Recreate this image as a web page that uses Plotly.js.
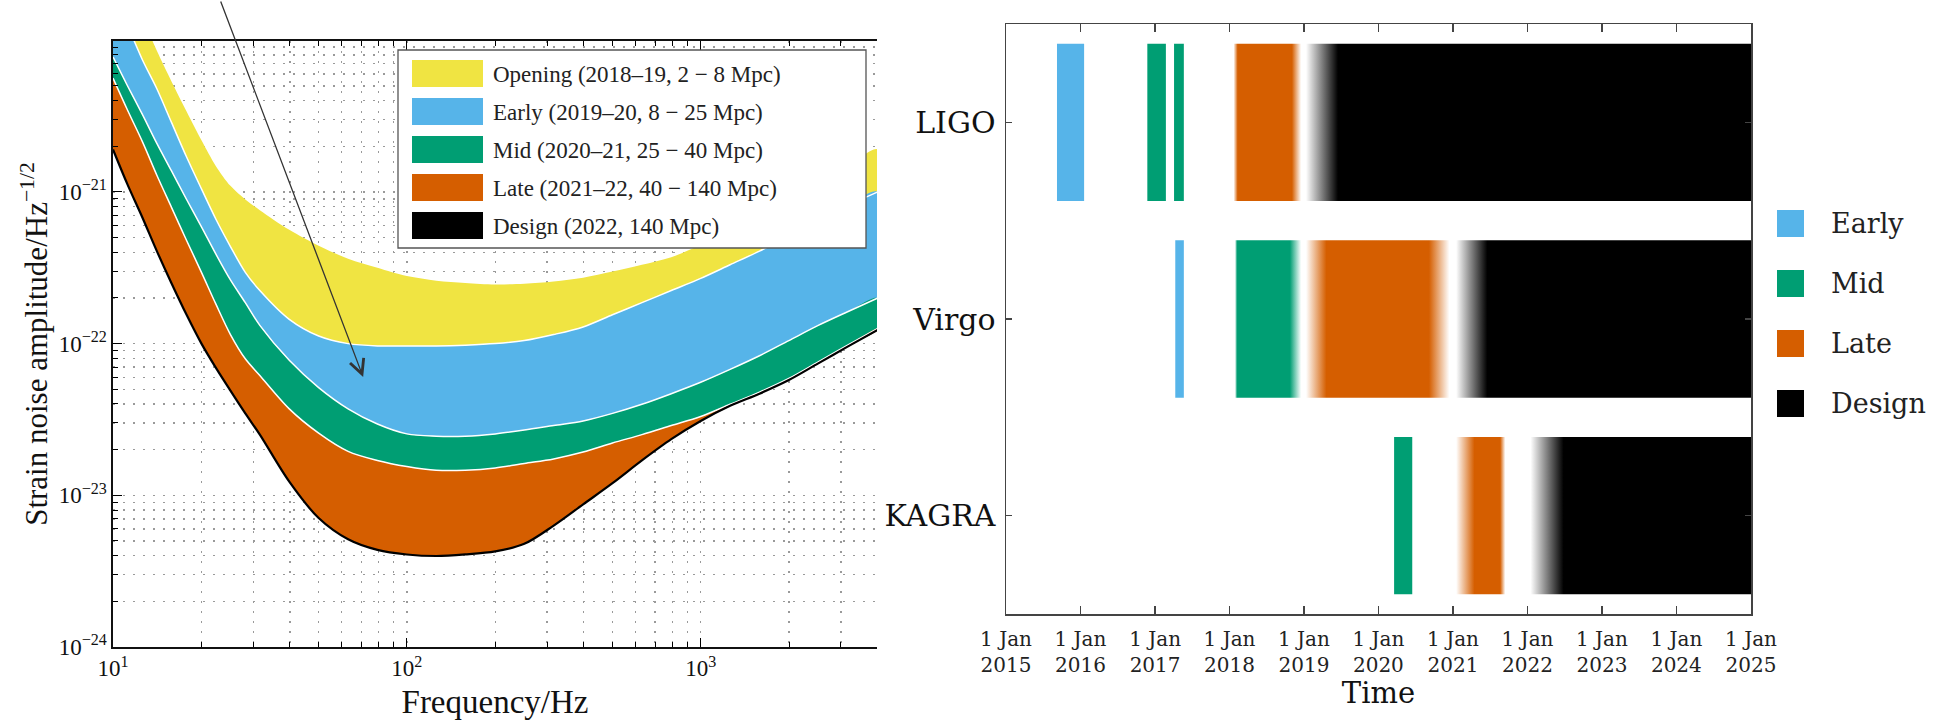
<!DOCTYPE html>
<html>
<head>
<meta charset="utf-8">
<script src="https://cdn.plot.ly/plotly-3.0.1.min.js"></script>
<style>html,body{margin:0;padding:0;background:#fff;}</style>
</head>
<body>
<div id="chart" style="width:1941px;height:720px;"></div>
<script>
// ---------- Left panel data: strain noise amplitude curves (log10 of ASD) ----------
const freqHz = [10, 11.2, 12.6, 14.1, 15.8, 17.8, 20, 22.4, 25.1, 28.2, 31.6, 39.8, 50.1, 63.1, 79.4, 100,
  126, 158, 200, 251, 316, 398, 501, 631, 794, 1000, 1259, 1585, 1995, 2512, 3162, 4000];
// 2 Mpc curve (top of Opening band)
const opening2MpcLog = [-19.40, -19.62, -19.85, -20.07, -20.27, -20.47, -20.66, -20.83, -20.96, -21.05, -21.12,
  -21.25, -21.355, -21.44, -21.50, -21.555, -21.585, -21.60, -21.61, -21.605, -21.59, -21.565, -21.525, -21.48,
  -21.43, -21.35, -21.26, -21.15, -21.04, -20.93, -20.83, -20.72];
// 8 Mpc curve (Opening / Early boundary)
const early8MpcLog = [-19.68, -19.90, -20.13, -20.32, -20.54, -20.77, -20.98, -21.18, -21.36, -21.53, -21.65,
  -21.84, -21.95, -22.00, -22.015, -22.015, -22.015, -22.01, -22.00, -21.98, -21.94, -21.89, -21.81, -21.73,
  -21.65, -21.57, -21.48, -21.39, -21.29, -21.19, -21.09, -21.00];
// 25 Mpc curve (Early / Mid boundary)
const mid25MpcLog = [-20.11, -20.30, -20.49, -20.68, -20.86, -21.05, -21.23, -21.41, -21.58, -21.73, -21.88,
  -22.11, -22.29, -22.43, -22.53, -22.595, -22.61, -22.61, -22.595, -22.57, -22.54, -22.51, -22.46, -22.40,
  -22.33, -22.255, -22.17, -22.08, -21.98, -21.88, -21.79, -21.70];
// 40 Mpc curve (Mid / Late boundary)
const late40MpcLog = [-20.25, -20.46, -20.67, -20.89, -21.10, -21.32, -21.53, -21.74, -21.94, -22.10, -22.21,
  -22.43, -22.59, -22.71, -22.77, -22.81, -22.835, -22.835, -22.82, -22.79, -22.76, -22.715, -22.655, -22.60,
  -22.54, -22.48, -22.40, -22.32, -22.23, -22.12, -22.01, -21.90];
// 140 Mpc curve (Design)
const design140MpcLog = [-20.72, -20.95, -21.17, -21.39, -21.60, -21.81, -22.00, -22.16, -22.31, -22.46, -22.60,
  -22.91, -23.15, -23.29, -23.36, -23.39, -23.40, -23.39, -23.37, -23.32, -23.20, -23.06, -22.92, -22.77,
  -22.63, -22.51, -22.41, -22.33, -22.24, -22.13, -22.02, -21.91];

const bandNames = ['Opening (2018–19, 2 − 8 Mpc)', 'Early (2019–20, 8 − 25 Mpc)', 'Mid (2020–21, 25 − 40 Mpc)',
  'Late (2021–22, 40 − 140 Mpc)', 'Design (2022, 140 Mpc)'];
const freqTickVals = [10, 100, 1000];
const freqTickText = ['10<sup>1</sup>', '10<sup>2</sup>', '10<sup>3</sup>'];
const strainTickVals = [1e-24, 1e-23, 1e-22, 1e-21];
const strainTickText = ['10<sup>−24</sup>', '10<sup>−23</sup>', '10<sup>−22</sup>', '10<sup>−21</sup>'];

// ---------- Right panel data: observing timeline ----------
const detectors = ['LIGO', 'Virgo', 'KAGRA'];
const phases = ['Early', 'Mid', 'Late', 'Design'];
const segDetector = ['LIGO', 'LIGO', 'LIGO', 'LIGO', 'LIGO', 'Virgo', 'Virgo', 'Virgo', 'Virgo', 'KAGRA', 'KAGRA', 'KAGRA'];
const segPhase    = ['Early', 'Mid', 'Mid', 'Late', 'Design', 'Early', 'Mid', 'Late', 'Design', 'Mid', 'Late', 'Design'];
const segStart = ['2015-09-08', '2016-11-24', '2017-04-04', '2018-01-21', '2019-01-11',
  '2017-04-10', '2018-01-28', '2019-01-11', '2021-01-16',
  '2020-03-18', '2021-01-16', '2022-01-16'];
const segEnd = ['2016-01-19', '2017-02-23', '2017-05-22', '2018-12-18', '2025-01-01',
  '2017-05-22', '2018-12-18', '2020-12-14', '2025-01-01',
  '2020-06-15', '2021-09-14', '2025-01-01'];
const segFadeInDays  = [0, 0, 0, 20, 157, 0, 10, 100, 153, 0, 90, 162];
const segFadeOutDays = [0, 0, 0, 45, 0, 0, 55, 100, 0, 0, 25, 0];
const yearTickVals = ['2015-01-01', '2016-01-01', '2017-01-01', '2018-01-01', '2019-01-01', '2020-01-01',
  '2021-01-01', '2022-01-01', '2023-01-01', '2024-01-01', '2025-01-01'];
const yearTickText = ['1 Jan<br>2015', '1 Jan<br>2016', '1 Jan<br>2017', '1 Jan<br>2018', '1 Jan<br>2019',
  '1 Jan<br>2020', '1 Jan<br>2021', '1 Jan<br>2022', '1 Jan<br>2023', '1 Jan<br>2024', '1 Jan<br>2025'];

// ---------- styling ----------
const COL = {Opening: '#F0E442', Early: '#56B4E9', Mid: '#009E73', Late: '#D55E00', Design: '#000000'};
const bandColors = [COL.Opening, COL.Early, COL.Mid, COL.Late, COL.Design];
const W = 1941, H = 720;
const px = v => v / W;
const py = v => 1 - v / H;
const SERIF_L = 'Liberation Serif, Times New Roman, serif';
const SERIF_R = 'DejaVu Serif, serif';

const toVal = arr => arr.map(v => Math.pow(10, v));
const curves = [opening2MpcLog, early8MpcLog, mid25MpcLog, late40MpcLog, design140MpcLog].map(toVal);

const traces = [];
// Bands between consecutive curves
for (let i = 0; i < 4; i++) {
  const upper = curves[i], lower = curves[i + 1];
  traces.push({
    x: freqHz.concat(freqHz.slice().reverse()),
    y: upper.concat(lower.slice().reverse()),
    xaxis: 'x', yaxis: 'y',
    type: 'scatter', mode: 'lines', fill: 'toself',
    line: {width: 0, shape: 'spline', smoothing: 0.9, color: bandColors[i]},
    fillcolor: bandColors[i], name: bandNames[i], hoverinfo: 'name'
  });
}
// Boundary lines
for (let i = 1; i <= 3; i++) {
  traces.push({x: freqHz, y: curves[i], xaxis: 'x', yaxis: 'y', type: 'scatter', mode: 'lines',
    line: {color: 'white', width: 1.5, shape: 'spline', smoothing: 0.9}, hoverinfo: 'skip'});
}
traces.push({x: freqHz, y: curves[4], xaxis: 'x', yaxis: 'y', type: 'scatter', mode: 'lines',
  line: {color: '#000', width: 2.2, shape: 'spline', smoothing: 0.9}, name: bandNames[4]});

// Timeline segments
const DAY = 86400000;
const halfBar = 0.4;
for (let i = 0; i < segStart.length; i++) {
  const c = detectors.indexOf(segDetector[i]);
  const color = COL[segPhase[i]];
  const span = (new Date(segEnd[i]) - new Date(segStart[i])) / DAY;
  const fi = segFadeInDays[i] / span, fo = segFadeOutDays[i] / span;
  const stops = [[0, fi > 0 ? '#ffffff' : color]];
  if (fi > 0) stops.push([fi, color]);
  if (fo > 0) stops.push([1 - fo, color]);
  stops.push([1, fo > 0 ? '#ffffff' : color]);
  traces.push({
    x: [segStart[i], segEnd[i], segEnd[i], segStart[i], segStart[i]],
    y: [c - halfBar, c - halfBar, c + halfBar, c + halfBar, c - halfBar],
    xaxis: 'x2', yaxis: 'y2', type: 'scatter', mode: 'none', fill: 'toself',
    fillcolor: color,
    fillgradient: {type: 'horizontal', colorscale: stops},
    name: segDetector[i] + ' ' + segPhase[i], hoverinfo: 'name'
  });
}

// ---------- custom legends ----------
const shapes = [];
const annotations = [];
shapes.push({type: 'rect', xref: 'paper', yref: 'paper', x0: px(398), x1: px(866), y0: py(248), y1: py(50),
  fillcolor: 'white', line: {color: '#555', width: 1.3}, layer: 'above'});
bandNames.forEach((name, i) => {
  const cy = 73.5 + 38 * i;
  shapes.push({type: 'rect', xref: 'paper', yref: 'paper', x0: px(412), x1: px(483), y0: py(cy + 13.5), y1: py(cy - 13.5),
    fillcolor: bandColors[i], line: {width: 0}, layer: 'above'});
  annotations.push({xref: 'paper', yref: 'paper', x: px(491), y: py(cy + 1), xanchor: 'left', yanchor: 'middle',
    text: name, showarrow: false, font: {family: SERIF_L, size: 23, color: '#222'}});
});
phases.forEach((name, i) => {
  const cy = 223.5 + 60 * i;
  shapes.push({type: 'rect', xref: 'paper', yref: 'paper', x0: px(1777), x1: px(1804), y0: py(cy + 13.5), y1: py(cy - 13.5),
    fillcolor: COL[name], line: {width: 0}});
  annotations.push({xref: 'paper', yref: 'paper', x: px(1829), y: py(cy), xanchor: 'left', yanchor: 'middle',
    text: name, showarrow: false, font: {family: SERIF_R, size: 27, color: '#222'}});
});
// pointer arrow
annotations.push({xref: 'x', yref: 'y', x: Math.log10(71), y: -22.22, text: '', showarrow: true,
  axref: 'pixel', ayref: 'pixel', ax: -143, ay: -378, arrowhead: 5, arrowsize: 2.2, arrowwidth: 1.3,
  arrowcolor: '#333', standoff: 0});

const gridDash = '2px,8px';
const layout = {
  width: W, height: H,
  margin: {l: 0, r: 0, t: 0, b: 0},
  paper_bgcolor: 'white', plot_bgcolor: 'white',
  showlegend: false,
  font: {family: SERIF_L, color: '#111'},
  xaxis: {
    type: 'log', domain: [px(113), px(877)], range: [1, Math.log10(3981)], anchor: 'y',
    tickmode: 'array', tickvals: freqTickVals, ticktext: freqTickText,
    ticks: 'inside', ticklen: 9, tickwidth: 1, tickcolor: '#000',
    showline: true, linecolor: '#111', linewidth: 1.6, mirror: 'ticks',
    showgrid: true, gridcolor: '#9a9a9a', griddash: gridDash, gridwidth: 1.4,
    minor: {ticks: 'inside', ticklen: 5, tickcolor: '#000', showgrid: true, gridcolor: '#9a9a9a',
      griddash: gridDash, gridwidth: 1.4, dtick: 'D1'},
    zeroline: false, tickfont: {family: SERIF_L, size: 23},
    title: {text: 'Frequency/Hz', font: {family: SERIF_L, size: 33}, standoff: 9},
    automargin: false
  },
  yaxis: {
    type: 'log', domain: [py(647), py(41)], range: [-24, -20.005], anchor: 'x',
    tickmode: 'array', tickvals: strainTickVals, ticktext: strainTickText,
    ticks: 'inside', ticklen: 9, tickwidth: 1, tickcolor: '#000',
    showline: true, linecolor: '#111', linewidth: 1.6, mirror: false,
    showgrid: true, gridcolor: '#9a9a9a', griddash: gridDash, gridwidth: 1.4,
    minor: {ticks: 'inside', ticklen: 5, tickcolor: '#000', showgrid: true, gridcolor: '#9a9a9a',
      griddash: gridDash, gridwidth: 1.4, dtick: 'D1'},
    zeroline: false, tickfont: {family: SERIF_L, size: 23},
    title: {text: 'Strain noise amplitude/Hz<sup>−1/2</sup>', font: {family: SERIF_L, size: 31}, standoff: 2},
    automargin: false
  },
  xaxis2: {
    type: 'date', domain: [px(1006), px(1751)], range: ['2015-01-01', '2025-01-01'], anchor: 'y2',
    tickmode: 'array', tickvals: yearTickVals, ticktext: yearTickText,
    ticks: 'inside', ticklen: 8, tickwidth: 1.2, tickcolor: '#444',
    showline: true, linecolor: '#444', linewidth: 1.5, mirror: 'ticks',
    showgrid: false, zeroline: false, ticklabelstandoff: 6,
    tickfont: {family: SERIF_R, size: 20, color: '#222'},
    title: {text: 'Time', font: {family: SERIF_R, size: 29, color: '#111'}, standoff: 6},
    automargin: false
  },
  yaxis2: {
    domain: [py(614), py(24)], range: [2.5, -0.5], anchor: 'x2',
    tickmode: 'array', tickvals: [0, 1, 2], ticktext: detectors,
    ticks: 'inside', ticklen: 6, tickwidth: 1.2, tickcolor: '#444',
    showline: true, linecolor: '#444', linewidth: 1.5, mirror: 'ticks',
    showgrid: false, zeroline: false, ticklabelstandoff: 3,
    tickfont: {family: SERIF_R, size: 30, color: '#111'},
    automargin: false
  },
  shapes: shapes,
  annotations: annotations
};

Plotly.newPlot('chart', traces, layout, {displayModeBar: false, staticPlot: true});
</script>
</body>
</html>
